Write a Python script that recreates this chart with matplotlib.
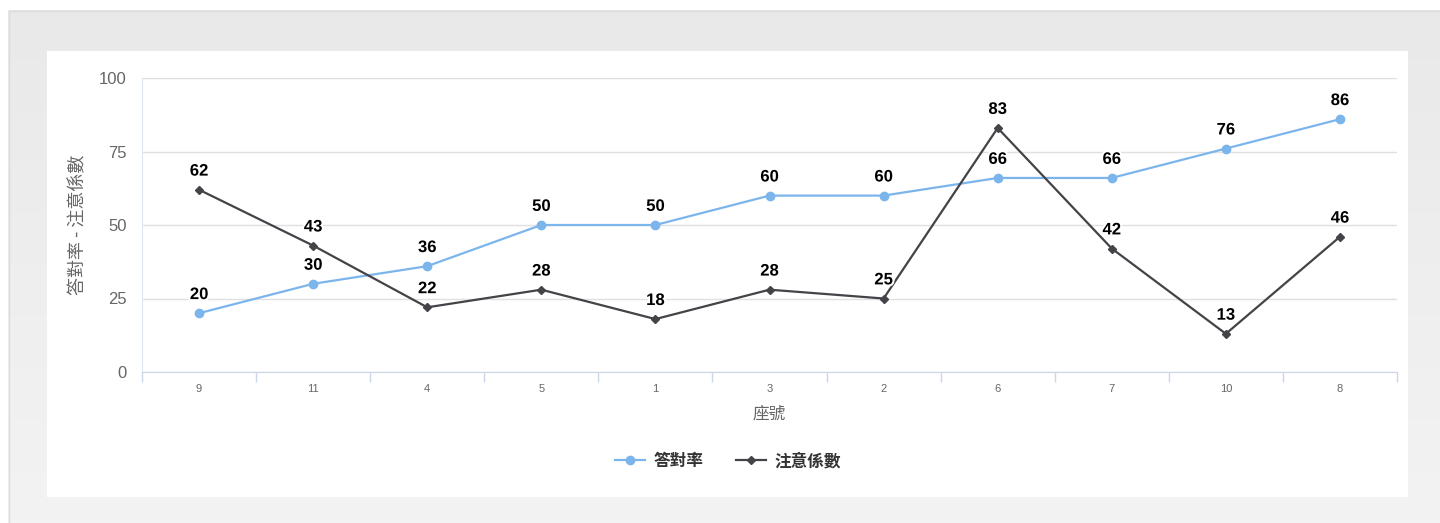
import matplotlib
matplotlib.use('Agg')
import matplotlib.pyplot as plt
import matplotlib.patheffects as pe
import numpy as np
from matplotlib.patches import Rectangle

# data
seats = ['9', '11', '4', '5', '1', '3', '2', '6', '7', '10', '8']
rate = [20, 30, 36, 50, 50, 60, 60, 66, 66, 76, 86]
caution = [62, 43, 22, 28, 18, 28, 25, 83, 42, 13, 46]
y_ticks = [0, 25, 50, 75, 100]

plt.rcParams['font.family'] = ['Liberation Sans', 'Noto Sans CJK TC', 'DejaVu Sans']
cjk = ['Noto Sans CJK TC', 'DejaVu Sans']

W, H = 1440, 523
fig = plt.figure(figsize=(14.4, 5.23), dpi=100)
fig.patch.set_facecolor('white')

# page background: gray card (vertical gradient) with white panel
bg = fig.add_axes([0, 0, 1, 1], zorder=-5)
bg.set_xlim(0, W)
bg.set_ylim(H, 0)
bg.axis('off')
grad = np.linspace(0.914, 0.953, 256).reshape(-1, 1)
bg.imshow(np.dstack([grad, grad, grad]), extent=(8, W, H, 10), aspect='auto')
bg.plot([8.5, 8.5, W], [H, 10.5, 10.5], color='#dcdcdc', lw=1)
bg.add_patch(Rectangle((47, 51), 1408 - 47, 497 - 51, facecolor='white', edgecolor='none'))
bg.set_xlim(0, W)
bg.set_ylim(H, 0)

ax = fig.add_axes([142 / W, (H - 372) / H, (1397 - 142) / W, 294 / H])
ax.set_facecolor('none')

x = list(range(len(seats)))
ax.plot(x, rate, color='#7cb5ec', lw=1.6, marker='o', ms=6, label='答對率', zorder=3)
ax.plot(x, caution, color='#434348', lw=1.6, marker='D', ms=4.5, label='注意係數', zorder=3)

halo = [pe.withStroke(linewidth=3, foreground='white')]
for ys in [rate, caution]:
    for xi, yi in zip(x, ys):
        ax.annotate(str(yi), (xi, yi), xytext=(0, 8), textcoords='offset points',
                    ha='center', va='bottom', fontsize=12, fontweight='bold',
                    color='black', path_effects=halo, zorder=4)

ax.set_xlim(-0.5, len(seats) - 0.5)
ax.set_ylim(0, 100)
ax.set_yticks(y_ticks)
ax.set_yticklabels([str(v) for v in y_ticks], fontsize=12, color='#666666')
ax.tick_params(axis='y', length=0, pad=11)
ax.grid(axis='y', color='#e0e0e0', lw=1)
ax.set_axisbelow(True)

ax.set_xticks(x)
ax.set_xticklabels(seats, fontsize=8, color='#666666')
ax.set_xticks([i - 0.5 for i in range(len(seats) + 1)], minor=True)
ax.tick_params(axis='x', which='major', length=0, pad=9)
ax.tick_params(axis='x', which='minor', length=7, color='#ccd6eb', width=1)

for s in ['top', 'right']:
    ax.spines[s].set_visible(False)
ax.spines['bottom'].set_color('#ccd6eb')
ax.spines['left'].set_color('#dfe6f0')

ax.set_xlabel('座號', family=cjk, fontsize=12, color='#666666', labelpad=8)
ax.set_ylabel('答對率 - 注意係數', family=cjk, fontsize=13, color='#666666', labelpad=8)

leg = fig.legend(loc='center', bbox_to_anchor=(728 / W, (H - 461) / H), ncol=2,
                 frameon=False, prop={'family': cjk, 'size': 12, 'weight': 'bold'},
                 handlelength=1.8, columnspacing=2.0, handletextpad=0.5)
for t in leg.get_texts():
    t.set_color('#333333')

fig.savefig('out.png', dpi=100)
